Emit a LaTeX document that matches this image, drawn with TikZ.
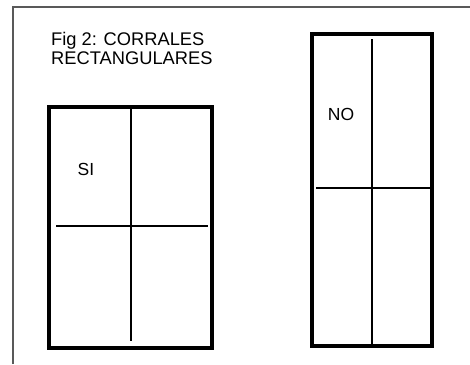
\documentclass[tikz,border=0pt]{standalone}
\usepackage{fontspec}
\setmainfont{Liberation Sans}
\usetikzlibrary{positioning}

\tikzset{
  frame/.style={draw=black!65, line width=1.5pt},
  corral/.style={draw=black, line width=3.1pt},
  divider/.style={draw=black, line width=2.7pt},
  lbl/.style={inner sep=0pt, font=\fontsize{17.5}{19.5}\selectfont}
}

\begin{document}
\begin{tikzpicture}[x=1pt, y=-1pt]
\useasboundingbox (0,0) rectangle (470,364);
% Outer frame (cut at right and bottom)
\coordinate (fbl) at (13,364);
\coordinate (ftl) at (13,7);
\coordinate (ftr) at (470,7);
\draw[frame] (fbl) -- (ftl) -- (ftr);

% Title
\node[lbl, anchor=north west, align=left, font=\fontsize{18.3}{19.5}\selectfont] (title) at (51,32) {Fig 2: CORRALES\\RECTANGULARES};

% Left corral (SI)
\coordinate (si-nw) at (49,107);
\coordinate (si-se) at (212,348);
\draw[corral] (si-nw) rectangle (si-se);
\coordinate (si-vt) at (131,107);
\coordinate (si-vb) at (131,341);
\coordinate (si-hl) at (56,226);
\coordinate (si-hr) at (208,226);
\draw[divider] (si-vt) -- (si-vb);
\draw[divider] (si-hl) -- (si-hr);
\node[lbl] (si) at (86,169) {SI};

% Right corral (NO)
\coordinate (no-nw) at (312,34);
\coordinate (no-se) at (432,346);
\draw[corral] (no-nw) rectangle (no-se);
\coordinate (no-vt) at (372,39);
\coordinate (no-vb) at (372,346);
\coordinate (no-hl) at (316,188);
\coordinate (no-hr) at (432,188);
\draw[divider] (no-vt) -- (no-vb);
\draw[divider] (no-hl) -- (no-hr);
\node[lbl] (no) at (341,114) {NO};
\end{tikzpicture}
\end{document}
